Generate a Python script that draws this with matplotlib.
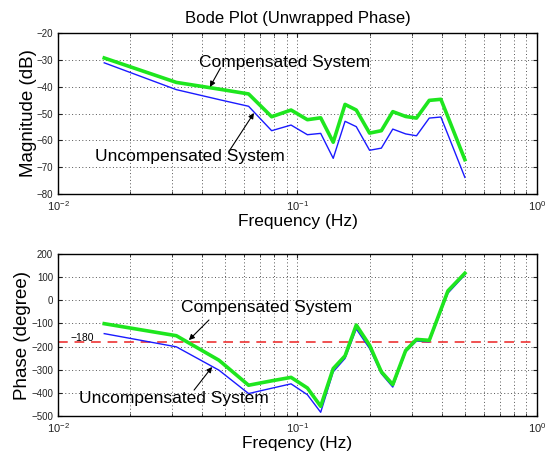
import numpy as np
import matplotlib
matplotlib.use("Agg")
import matplotlib.pyplot as plt
from matplotlib.ticker import LogLocator

plt.rcParams['font.family'] = ['Liberation Sans', 'DejaVu Sans']
plt.rcParams['mathtext.fontset'] = 'custom'
plt.rcParams['mathtext.rm'] = 'Liberation Sans'

# frequencies (Hz)
freq = [0.0156, 0.0312, 0.047, 0.0625, 0.078, 0.094, 0.11, 0.125, 0.141, 0.158,
        0.176, 0.2, 0.224, 0.25, 0.283, 0.314, 0.355, 0.397, 0.425, 0.5]

# magnitude (dB)
mag_comp = [-29.3, -38.4, -40.9, -42.7, -51.2, -48.7, -52.3, -51.6, -60.7, -46.6,
            -48.7, -57.3, -56.4, -49.3, -51.1, -51.7, -45.1, -44.7, -51.3, -67.2]
mag_unc = [-31.1, -41.1, -44.8, -47.3, -56.4, -54.3, -57.9, -57.4, -66.7, -52.9,
           -54.9, -63.7, -62.9, -55.8, -57.6, -58.3, -51.7, -51.3, -57.9, -73.8]

# phase (degree)
ph_comp = [-101, -153, -259, -367, -348, -333, -379, -458, -295, -240,
           -107, -194, -309, -364, -217, -169, -173, -40, 41, 117]
ph_unc = [-144, -201, -302, -403, -380, -361, -408, -484, -309, -251,
          -124, -208, -317, -375, -223, -176, -179, -48, 31, 110]

GREEN = '#1ee61e'
BLUE = '#1a1aff'

fig = plt.figure(figsize=(5.55, 4.55), dpi=100)
ax1 = fig.add_axes([0.1045, 0.5736, 0.863, 0.3538])
ax2 = fig.add_axes([0.1045, 0.0857, 0.863, 0.356])

GRID = dict(ls=(0, (1, 2.5)), color='#555555', lw=0.7)


def style(ax):
    ax.set_xscale('log')
    ax.set_xlim(0.01, 1)
    ax.xaxis.set_minor_locator(LogLocator(base=10, subs=np.arange(2, 10)))
    ax.tick_params(which='both', direction='in', top=True, right=True,
                   labelsize=7, length=3, colors='#222222')
    ax.tick_params(which='minor', length=2)
    ax.tick_params(axis='x', labelsize=8)
    ax.grid(True, which='major', **GRID)
    ax.grid(True, which='minor', axis='x', **GRID)
    for s in ax.spines.values():
        s.set_linewidth(1.0)


# magnitude plot
style(ax1)
ax1.plot(freq, mag_unc, color=BLUE, lw=1)
ax1.plot(freq, mag_comp, color=GREEN, lw=2.6)
ax1.set_ylim(-80, -20)
ax1.set_yticks(np.arange(-80, -19, 10))
ax1.set_title('Bode Plot (Unwrapped Phase)', fontsize=12, pad=7)
ax1.set_xlabel('Frequency (Hz)', fontsize=12.5, labelpad=1)
ax1.set_ylabel('Magnitude (dB)', fontsize=13.5, labelpad=0)

arr = dict(arrowstyle='-|>', color='k', lw=0.8, mutation_scale=8, shrinkA=0, shrinkB=0)
ax1.text(0.0887, -30.8, 'Compensated System', fontsize=12.5, ha='center', va='center')
ax1.annotate('', xy=(0.0431, -40.1), xytext=(0.0477, -33.0), arrowprops=arr)
ax1.text(0.0356, -66.2, 'Uncompensated System', fontsize=12.5, ha='center', va='center')
ax1.annotate('', xy=(0.0658, -49.8), xytext=(0.0522, -63.6), arrowprops=arr)

# phase plot
style(ax2)
ax2.axhline(-180, color='#ee3333', ls=(0, (5, 3.5)), lw=1.4, alpha=0.85)
ax2.plot(freq, ph_unc, color=BLUE, lw=1)
ax2.plot(freq, ph_comp, color=GREEN, lw=2.6)
ax2.set_ylim(-500, 200)
ax2.set_yticks(np.arange(-500, 201, 100))
ax2.set_xlabel('Freqency (Hz)', fontsize=12.5, labelpad=1)
ax2.set_ylabel('Phase (degree)', fontsize=13.5, labelpad=0)

ax2.text(0.0126, -163, '\u2212180', fontsize=7.5, ha='center', va='center')
ax2.text(0.0743, -33, 'Compensated System', fontsize=12.5, ha='center', va='center')
ax2.annotate('', xy=(0.0352, -172), xytext=(0.0427, -85), arrowprops=arr)
ax2.text(0.0306, -426, 'Uncompensated System', fontsize=12.5, ha='center', va='center')
ax2.annotate('', xy=(0.044, -288), xytext=(0.037, -388), arrowprops=arr)

fig.savefig('out.png', dpi=100)
